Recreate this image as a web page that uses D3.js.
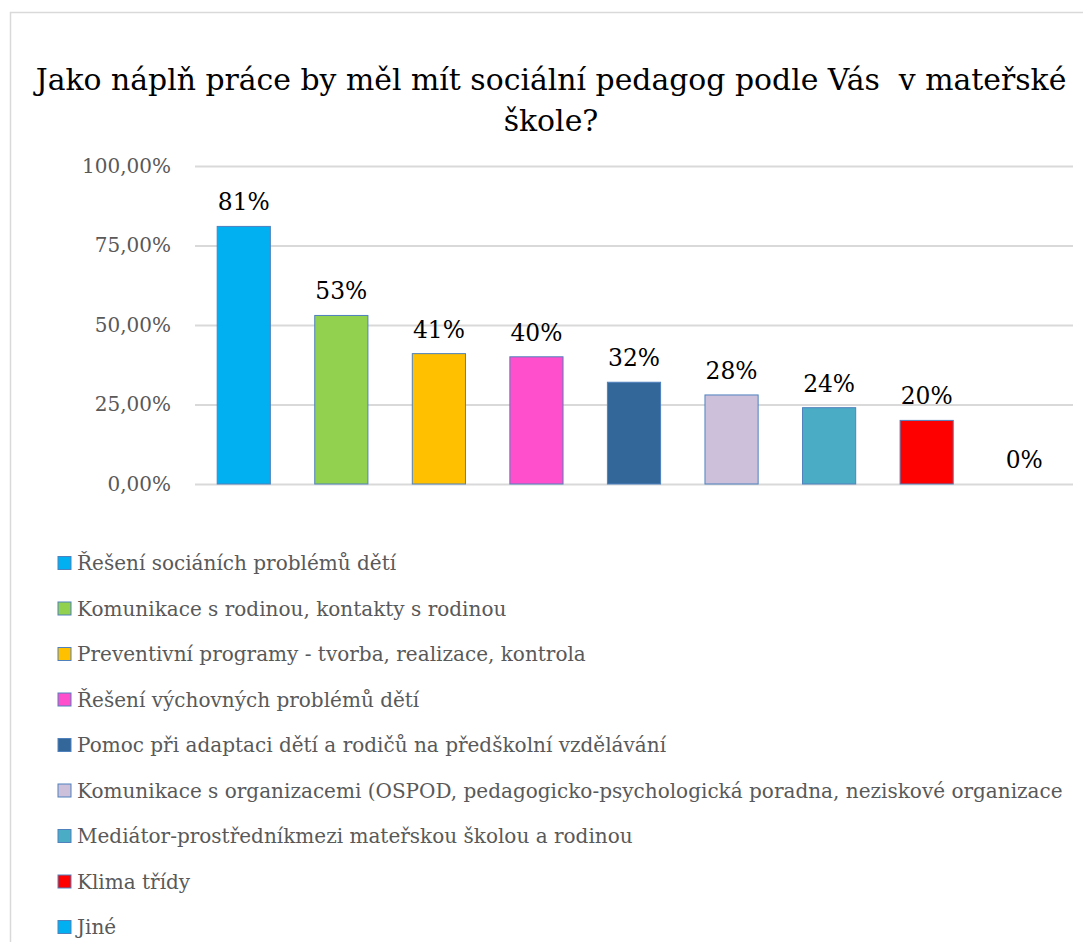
<!DOCTYPE html>
<html>
<head>
<meta charset="utf-8">
<script src="https://cdn.jsdelivr.net/npm/d3@7"></script>
<style>
  html, body { margin: 0; padding: 0; background: #fff; }
  svg { display: block; }
</style>
</head>
<body>
<svg id="chart" width="1083" height="942"></svg>
<script>
// Survey answers: what a social pedagogue's job in a kindergarten should include
const categories = [
  "Řešení sociáních problémů dětí",
  "Komunikace s rodinou, kontakty s rodinou",
  "Preventivní programy - tvorba, realizace, kontrola",
  "Řešení výchovných problémů dětí",
  "Pomoc při adaptaci dětí a rodičů na předškolní vzdělávání",
  "Komunikace s organizacemi (OSPOD, pedagogicko-psychologická poradna, neziskové organizace",
  "Mediátor-prostředníkmezi mateřskou školou a rodinou",
  "Klima třídy",
  "Jiné"
];
const values = [0.81, 0.53, 0.41, 0.40, 0.32, 0.28, 0.24, 0.20, 0.00];
const colors = ["#00B0F0", "#92D050", "#FFC000", "#FF4FCC", "#336699", "#CCC0DA", "#4BACC6", "#FF0000", "#00B0F0"];
const yTicks = [0, 0.25, 0.5, 0.75, 1.0];
const titleLines = ["Jako náplň práce by měl mít sociální pedagog podle Vás  v mateřské", "škole?"];

const font = "'DejaVu Serif', 'Liberation Serif', serif";
const svg = d3.select("#chart");

// scale a group of texts so that the reference string occupies the given width
function fitFont(sel, refNode, width) {
  const w = refNode.getComputedTextLength();
  const size = parseFloat(d3.select(refNode).attr("font-size"));
  sel.attr("font-size", (size * width / w).toFixed(2));
}

// chart frame
svg.append("rect")
  .attr("x", 10.5).attr("y", 12.5)
  .attr("width", 1200).attr("height", 1200)
  .attr("fill", "#fff").attr("stroke", "#D9D9D9").attr("stroke-width", 1.5);

// title
const title = svg.append("g").selectAll("text").data(titleLines).join("text")
  .attr("x", 551).attr("y", (d, i) => 90 + i * 41)
  .attr("text-anchor", "middle")
  .attr("font-family", font).attr("font-size", 30)
  .attr("fill", "#000")
  .style("white-space", "pre")
  .attr("xml:space", "preserve")
  .text(d => d);
fitFont(title, title.nodes()[0], 1031);

const x = d3.scaleBand().domain(d3.range(categories.length)).range([195, 1073]).paddingInner(0.455).paddingOuter(0.2275);
const y = d3.scaleLinear().domain([0, 1]).range([484, 166]);

// gridlines and y axis
const yAxis = d3.axisLeft(y).tickValues(yTicks)
  .tickSize(-(1073 - 195))
  .tickPadding(24)
  .tickFormat(d => d3.format(".2f")(d * 100).replace(".", ",") + "%");
const gy = svg.append("g").attr("transform", "translate(195,0)").call(yAxis);
gy.select(".domain").remove();
gy.selectAll(".tick line").attr("stroke", "#D9D9D9").attr("stroke-width", 2);
const tickText = gy.selectAll(".tick text")
  .attr("font-family", font).attr("font-size", 20)
  .attr("fill", "#595959");
fitFont(tickText, tickText.nodes()[tickText.size() - 1], 89);

// bars
svg.append("g").selectAll("rect").data(values).join("rect")
  .attr("x", (d, i) => x(i))
  .attr("y", d => y(d))
  .attr("width", x.bandwidth())
  .attr("height", d => y(0) - y(d))
  .attr("fill", (d, i) => colors[i])
  .attr("stroke", "#4F81BD").attr("stroke-width", d => d > 0 ? 1 : 0);

// value labels
const valueText = svg.append("g").selectAll("text").data(values).join("text")
  .attr("x", (d, i) => x(i) + x.bandwidth() / 2)
  .attr("y", d => y(d) - 16)
  .attr("text-anchor", "middle")
  .attr("font-family", font).attr("font-size", 22)
  .attr("fill", "#000")
  .text(d => d3.format(".0%")(d));
fitFont(valueText, valueText.nodes()[0], 52);

// legend
const legend = svg.append("g").selectAll("g").data(categories).join("g")
  .attr("transform", (d, i) => `translate(58, ${563 + i * 45.5})`);
legend.append("rect")
  .attr("x", 0).attr("y", -6.5).attr("width", 13).attr("height", 13)
  .attr("fill", (d, i) => colors[i])
  .attr("stroke", "#4F81BD").attr("stroke-width", 1);
const legendText = legend.append("text")
  .attr("x", 19).attr("y", 0).attr("dy", "0.35em")
  .attr("font-family", font).attr("font-size", 19)
  .attr("fill", "#595959")
  .text(d => d);
fitFont(legendText, legendText.nodes()[5], 986);
</script>
</body>
</html>
